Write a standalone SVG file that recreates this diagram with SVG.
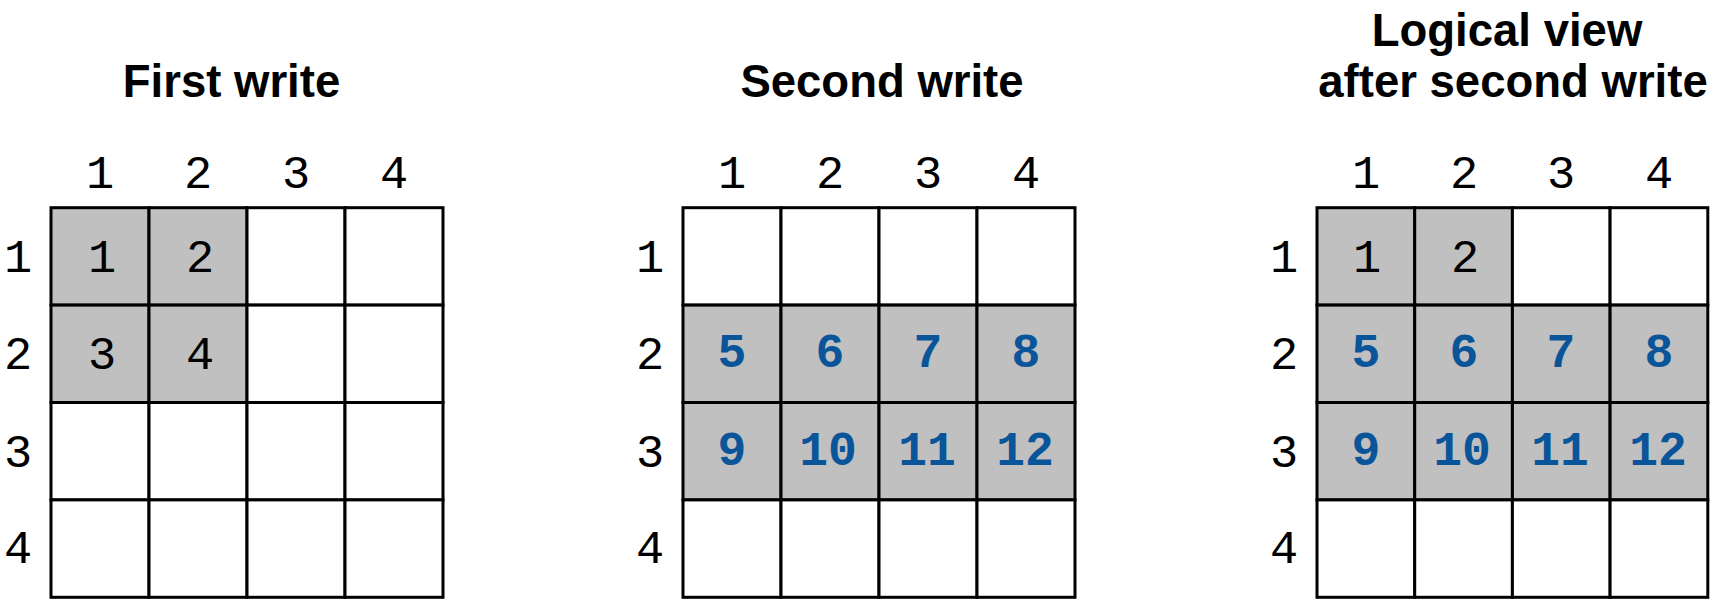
<svg xmlns="http://www.w3.org/2000/svg" width="1716" height="608" viewBox="0 0 1716 608">
<style>
.title{font-family:"Liberation Sans",Arial,sans-serif;font-weight:bold;font-size:45.5px;fill:#000;text-anchor:middle}
.lbl{font-family:"Liberation Mono","Courier New",monospace;font-size:47px;fill:#000;text-anchor:middle}
.val{font-family:"Liberation Mono","Courier New",monospace;font-size:47px;fill:#000;text-anchor:middle}
.new{font-family:"Liberation Mono","Courier New",monospace;font-weight:bold;font-size:48px;fill:#0A559A;text-anchor:middle}
.c{fill:#fff;stroke:#000;stroke-width:3}
.g{fill:#C0C0C0;stroke:#000;stroke-width:3}
</style>
<rect width="1716" height="608" fill="#fff"/>

<g id="grid1">
<text class="title" x="231.5" y="97">First write</text>
<text class="lbl" x="100" y="188">1</text><text class="lbl" x="198" y="188">2</text><text class="lbl" x="296" y="188">3</text><text class="lbl" x="394" y="188">4</text>
<text class="lbl" x="18" y="272">1</text><text class="lbl" x="18" y="369">2</text><text class="lbl" x="18" y="467">3</text><text class="lbl" x="18" y="563">4</text>
<rect class="g" x="51" y="207.7" width="98" height="97.4"/><rect class="g" x="149" y="207.7" width="98" height="97.4"/><rect class="c" x="247" y="207.7" width="98" height="97.4"/><rect class="c" x="345" y="207.7" width="98" height="97.4"/>
<rect class="g" x="51" y="305.1" width="98" height="97.4"/><rect class="g" x="149" y="305.1" width="98" height="97.4"/><rect class="c" x="247" y="305.1" width="98" height="97.4"/><rect class="c" x="345" y="305.1" width="98" height="97.4"/>
<rect class="c" x="51" y="402.5" width="98" height="97.4"/><rect class="c" x="149" y="402.5" width="98" height="97.4"/><rect class="c" x="247" y="402.5" width="98" height="97.4"/><rect class="c" x="345" y="402.5" width="98" height="97.4"/>
<rect class="c" x="51" y="499.9" width="98" height="97.4"/><rect class="c" x="149" y="499.9" width="98" height="97.4"/><rect class="c" x="247" y="499.9" width="98" height="97.4"/><rect class="c" x="345" y="499.9" width="98" height="97.4"/>
<text class="val" x="102" y="272">1</text><text class="val" x="200" y="272">2</text>
<text class="val" x="102" y="369">3</text><text class="val" x="200" y="369">4</text>
</g>

<g id="grid2">
<text class="title" x="882" y="97">Second write</text>
<text class="lbl" x="732" y="188">1</text><text class="lbl" x="830" y="188">2</text><text class="lbl" x="928" y="188">3</text><text class="lbl" x="1026" y="188">4</text>
<text class="lbl" x="650" y="272">1</text><text class="lbl" x="650" y="369">2</text><text class="lbl" x="650" y="467">3</text><text class="lbl" x="650" y="563">4</text>
<rect class="c" x="683" y="207.7" width="98" height="97.4"/><rect class="c" x="781" y="207.7" width="98" height="97.4"/><rect class="c" x="879" y="207.7" width="98" height="97.4"/><rect class="c" x="977" y="207.7" width="98" height="97.4"/>
<rect class="g" x="683" y="305.1" width="98" height="97.4"/><rect class="g" x="781" y="305.1" width="98" height="97.4"/><rect class="g" x="879" y="305.1" width="98" height="97.4"/><rect class="g" x="977" y="305.1" width="98" height="97.4"/>
<rect class="g" x="683" y="402.5" width="98" height="97.4"/><rect class="g" x="781" y="402.5" width="98" height="97.4"/><rect class="g" x="879" y="402.5" width="98" height="97.4"/><rect class="g" x="977" y="402.5" width="98" height="97.4"/>
<rect class="c" x="683" y="499.9" width="98" height="97.4"/><rect class="c" x="781" y="499.9" width="98" height="97.4"/><rect class="c" x="879" y="499.9" width="98" height="97.4"/><rect class="c" x="977" y="499.9" width="98" height="97.4"/>
<text class="new" x="732" y="367">5</text><text class="new" x="830" y="367">6</text><text class="new" x="928" y="367">7</text><text class="new" x="1026" y="367">8</text>
<text class="new" x="732" y="465">9</text><text class="new" x="828" y="465">10</text><text class="new" x="927" y="465">11</text><text class="new" x="1025" y="465">12</text>
</g>

<g id="grid3">
<text class="title" x="1507" y="46">Logical view</text>
<text class="title" x="1513" y="97">after second write</text>
<text class="lbl" x="1366" y="188">1</text><text class="lbl" x="1464" y="188">2</text><text class="lbl" x="1561" y="188">3</text><text class="lbl" x="1659" y="188">4</text>
<text class="lbl" x="1284" y="272">1</text><text class="lbl" x="1284" y="369">2</text><text class="lbl" x="1284" y="467">3</text><text class="lbl" x="1284" y="563">4</text>
<rect class="g" x="1317" y="207.7" width="97.7" height="97.4"/><rect class="g" x="1414.7" y="207.7" width="97.7" height="97.4"/><rect class="c" x="1512.4" y="207.7" width="97.7" height="97.4"/><rect class="c" x="1610.1" y="207.7" width="97.7" height="97.4"/>
<rect class="g" x="1317" y="305.1" width="97.7" height="97.4"/><rect class="g" x="1414.7" y="305.1" width="97.7" height="97.4"/><rect class="g" x="1512.4" y="305.1" width="97.7" height="97.4"/><rect class="g" x="1610.1" y="305.1" width="97.7" height="97.4"/>
<rect class="g" x="1317" y="402.5" width="97.7" height="97.4"/><rect class="g" x="1414.7" y="402.5" width="97.7" height="97.4"/><rect class="g" x="1512.4" y="402.5" width="97.7" height="97.4"/><rect class="g" x="1610.1" y="402.5" width="97.7" height="97.4"/>
<rect class="c" x="1317" y="499.9" width="97.7" height="97.4"/><rect class="c" x="1414.7" y="499.9" width="97.7" height="97.4"/><rect class="c" x="1512.4" y="499.9" width="97.7" height="97.4"/><rect class="c" x="1610.1" y="499.9" width="97.7" height="97.4"/>
<text class="val" x="1367" y="272">1</text><text class="val" x="1465" y="272">2</text>
<text class="new" x="1366" y="367">5</text><text class="new" x="1464" y="367">6</text><text class="new" x="1561" y="367">7</text><text class="new" x="1659" y="367">8</text>
<text class="new" x="1366" y="465">9</text><text class="new" x="1462" y="465">10</text><text class="new" x="1560" y="465">11</text><text class="new" x="1658" y="465">12</text>
</g>

<g id="connectors"></g>
</svg>
